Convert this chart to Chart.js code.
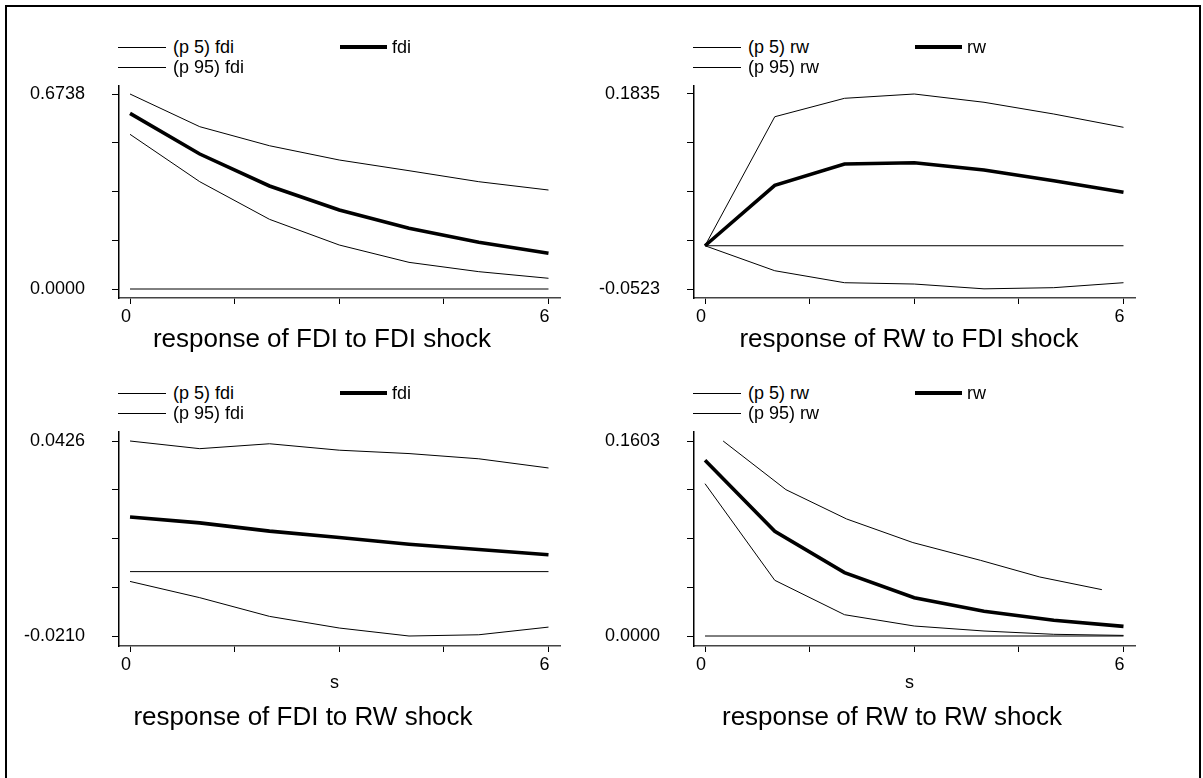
<!DOCTYPE html>
<html>
<head>
<meta charset="utf-8">
<script src="https://cdn.jsdelivr.net/npm/chart.js@4.4.0/dist/chart.umd.min.js"></script>
<style>
  body { margin: 0; background: #fff; font-family: "Liberation Sans", Arial, sans-serif; color: #000; }
  #page { position: relative; width: 1203px; height: 778px; overflow: hidden; background: #fff; }
  #frame { position: absolute; left: 5px; top: 5px; width: 1192px; height: 800px; border: 2px solid #000; }
  canvas { position: absolute; }
  .txt { position: absolute; white-space: nowrap; line-height: 1.12; transform: translateY(-50%); }
  .ctr { transform: translate(-50%, -50%); }
  .swatch { position: absolute; background: #000; }
</style>
</head>
<body>
<div id="page">
  <div id="frame"></div>
</div>
<script>
'use strict';

// DATA
let steps = [0, 1, 2, 3, 4, 5, 6];
let xTickValues = [0, 1.5, 3, 4.5, 6];
let xTickLabels = ['0', '', '', '', '6'];

let fdiNames = ['(p 5) fdi', '(p 95) fdi', 'fdi'];
let rwNames = ['(p 5) rw', '(p 95) rw', 'rw'];

// response of FDI to FDI shock
let fdiFdiLo = [0.5345, 0.3708, 0.2407, 0.1520, 0.0921, 0.0599, 0.0370];
let fdiFdiMid = [0.6070, 0.4664, 0.3559, 0.2730, 0.2097, 0.1613, 0.1233];
let fdiFdiHi = [0.6738, 0.5608, 0.4950, 0.4457, 0.4088, 0.3708, 0.3420];
let fdiFdiTicks = ['0.0000', '0.6738'];

// response of RW to FDI shock
let rwFdiLo = [0, -0.0302, -0.0447, -0.0463, -0.0521, -0.0507, -0.0447];
let rwFdiMid = [0, 0.0731, 0.0988, 0.1004, 0.0916, 0.0787, 0.0646];
let rwFdiHi = [0, 0.1560, 0.1783, 0.1835, 0.1735, 0.1593, 0.1432];
let rwFdiTicks = ['-0.0523', '0.1835'];

// response of FDI to RW shock
let fdiRwLo = [-0.0032, -0.0085, -0.0146, -0.0184, -0.0210, -0.0206, -0.0181];
let fdiRwMid = [0.0178, 0.0159, 0.0132, 0.0111, 0.0089, 0.0072, 0.0055];
let fdiRwHi = [0.0426, 0.0401, 0.0417, 0.0396, 0.0385, 0.0368, 0.0338];
let fdiRwTicks = ['-0.0210', '0.0426'];

// response of RW to RW shock (upper band is drawn off the step grid)
let rwRwLo = [0.1252, 0.0458, 0.0175, 0.0082, 0.0041, 0.0014, 0.0005];
let rwRwMid = [0.1444, 0.0860, 0.0521, 0.0315, 0.0203, 0.0129, 0.0079];
let rwRwHiSteps = [0.26, 1.16, 2.03, 2.98, 3.95, 4.80, 5.69];
let rwRwHi = [0.1603, 0.1203, 0.0962, 0.0768, 0.0622, 0.0485, 0.0381];
let rwRwTicks = ['0.0000', '0.1603'];

// LAYOUT (pixel boxes of each plot: axis edges and first/last y tick)
let panels = [
  { box: { l: 119, r: 560, t: 86, b: 298, yTop: 94, yBot: 289 }, lo: fdiFdiLo, mid: fdiFdiMid, hi: fdiFdiHi, hiSteps: steps,
    ticks: fdiFdiTicks, names: fdiNames, title: 'response of FDI to FDI shock', titleX: 322, titleY: 339, legY: 47, xTitle: false },
  { box: { l: 694, r: 1135, t: 86, b: 298, yTop: 94, yBot: 289 }, lo: rwFdiLo, mid: rwFdiMid, hi: rwFdiHi, hiSteps: steps,
    ticks: rwFdiTicks, names: rwNames, title: 'response of RW to FDI shock', titleX: 909, titleY: 339, legY: 47, xTitle: false },
  { box: { l: 119, r: 560, t: 432, b: 646, yTop: 441, yBot: 636 }, lo: fdiRwLo, mid: fdiRwMid, hi: fdiRwHi, hiSteps: steps,
    ticks: fdiRwTicks, names: fdiNames, title: 'response of FDI to RW shock', titleX: 303, titleY: 717, legY: 393, xTitle: true },
  { box: { l: 694, r: 1135, t: 432, b: 646, yTop: 441, yBot: 636 }, lo: rwRwLo, mid: rwRwMid, hi: rwRwHi, hiSteps: rwRwHiSteps,
    ticks: rwRwTicks, names: rwNames, title: 'response of RW to RW shock', titleX: 892, titleY: 717, legY: 393, xTitle: true }
];

const FONT = '"Liberation Sans", Arial, sans-serif';
const Y_AXIS_W = 100;
const X_AXIS_H = 44;
const PAD = 12;
const X_MIN = -0.158;
const X_MAX = 6.165;

let page = document.getElementById('page');

// HELPERS
function toPoints(xs, ys) {
  return xs.map(function (x, i) { return { x: x, y: ys[i] }; });
}

function addText(str, x, y, size, centered) {
  let el = document.createElement('div');
  el.className = centered ? 'txt ctr' : 'txt';
  el.style.left = x + 'px';
  el.style.top = y + 'px';
  el.style.fontSize = size + 'px';
  el.textContent = str;
  page.appendChild(el);
}

function addSwatch(x1, x2, y, h) {
  let el = document.createElement('div');
  el.className = 'swatch';
  el.style.left = x1 + 'px';
  el.style.width = (x2 - x1) + 'px';
  el.style.top = (y - h / 2) + 'px';
  el.style.height = h + 'px';
  page.appendChild(el);
}

function renderPanel(p) {
  let box = p.box;
  let lo = parseFloat(p.ticks[0]);
  let hi = parseFloat(p.ticks[1]);
  let pxPer = (box.yBot - box.yTop) / (hi - lo);
  let yMax = hi + (box.yTop - box.t) / pxPer;
  let yMin = lo - (box.b - box.yBot) / pxPer;

  let canvas = document.createElement('canvas');
  let w = (box.r - box.l) + Y_AXIS_W + PAD;
  let h = (box.b - box.t) + PAD + X_AXIS_H;
  canvas.width = w;
  canvas.height = h;
  canvas.style.left = (box.l - Y_AXIS_W) + 'px';
  canvas.style.top = (box.t - PAD) + 'px';
  page.appendChild(canvas);

  let zero = [{ x: 0, y: 0 }, { x: 6, y: 0 }];

  new Chart(canvas.getContext('2d'), {
    type: 'line',
    data: {
      datasets: [
        { data: toPoints(steps, p.mid), borderColor: '#000', borderWidth: 3.6 },
        { data: toPoints(steps, p.lo), borderColor: '#000', borderWidth: 1 },
        { data: toPoints(p.hiSteps, p.hi), borderColor: '#000', borderWidth: 1 },
        { data: zero, borderColor: '#000', borderWidth: 1 }
      ]
    },
    options: {
      responsive: false,
      animation: false,
      layout: { padding: { top: PAD, right: PAD, left: 0, bottom: 0 } },
      elements: { point: { radius: 0 }, line: { tension: 0, borderCapStyle: 'butt' } },
      plugins: { legend: { display: false }, tooltip: { enabled: false } },
      scales: {
        x: {
          type: 'linear',
          min: X_MIN,
          max: X_MAX,
          afterBuildTicks: function (scale) {
            scale.ticks = xTickValues.map(function (v) { return { value: v }; });
          },
          afterFit: function (scale) {
            scale.height = X_AXIS_H;
            scale.paddingLeft = 0;
            scale.paddingRight = 0;
          },
          ticks: {
            autoSkip: false,
            maxRotation: 0,
            padding: 2,
            labelOffset: -4,
            color: '#000',
            font: { family: FONT, size: 18 },
            callback: function (value, index) { return xTickLabels[index]; }
          },
          grid: { drawOnChartArea: false, drawTicks: true, tickLength: 6, color: '#000', lineWidth: 1 },
          border: { display: true, color: '#444', width: 1.5 }
        },
        y: {
          type: 'linear',
          min: yMin,
          max: yMax,
          afterBuildTicks: function (scale) {
            let t = [];
            for (let k = 0; k <= 4; k++) {
              t.push({ value: lo + k * (hi - lo) / 4 });
            }
            scale.ticks = t;
          },
          afterFit: function (scale) {
            scale.width = Y_AXIS_W;
            scale.paddingTop = 0;
            scale.paddingBottom = 0;
          },
          ticks: {
            autoSkip: false,
            padding: 27,
            color: '#000',
            font: { family: FONT, size: 18 },
            callback: function (value, index) {
              if (index === 0) return p.ticks[0];
              if (index === 4) return p.ticks[1];
              return '';
            }
          },
          grid: { drawOnChartArea: false, drawTicks: true, tickLength: 7, color: '#000', lineWidth: 1 },
          border: { display: true, color: '#000', width: 1.5 }
        }
      }
    }
  });

  // legend: two columns, thin bands on the left, point estimate on the right
  addSwatch(box.l - 1, box.l + 47, p.legY, 1);
  addText(p.names[0], box.l + 54, p.legY, 18, false);
  addSwatch(box.l - 1, box.l + 47, p.legY + 20, 1);
  addText(p.names[1], box.l + 54, p.legY + 20, 18, false);
  addSwatch(box.l + 221, box.l + 268, p.legY, 3.5);
  addText(p.names[2], box.l + 273, p.legY, 18, false);

  if (p.xTitle) {
    addText('s', (box.l + box.r) / 2 - 5, box.b + 36, 18, true);
  }
  addText(p.title, p.titleX, p.titleY, 26, true);
}

panels.forEach(renderPanel);
</script>
</body>
</html>
